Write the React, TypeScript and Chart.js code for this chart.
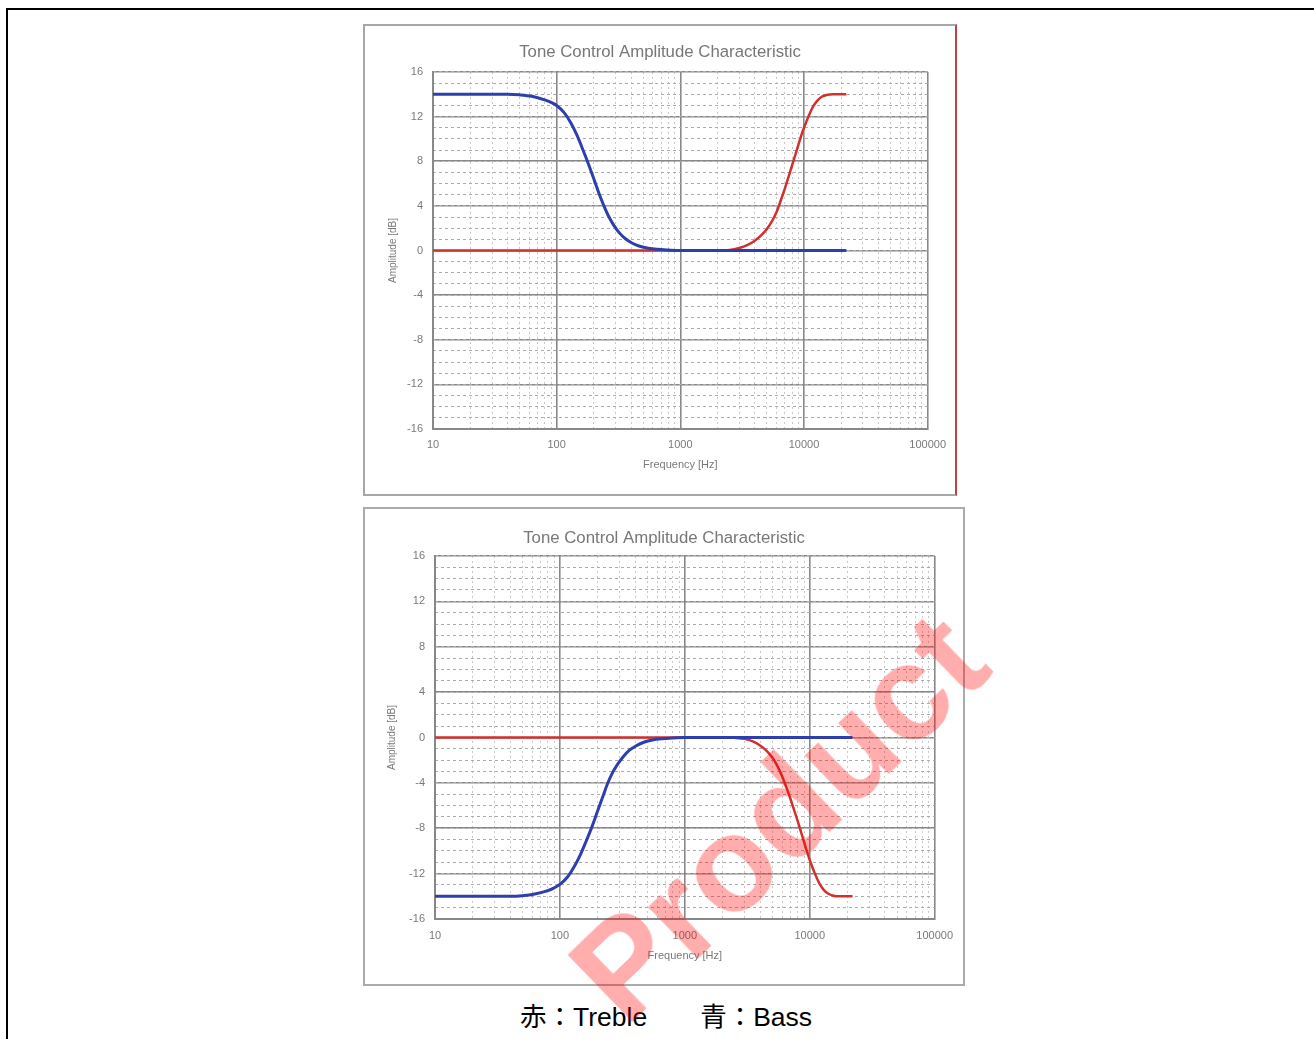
import React, { useEffect, useRef } from "react";
import { Chart, registerables } from "chart.js";

Chart.register(...registerables);

// ---------- data ----------
const TITLE = "Tone Control Amplitude Characteristic";
const X_TITLE = "Frequency [Hz]";
const Y_TITLE = "Amplitude [dB]";
const X_MAJOR_TICKS = [10, 100, 1000, 10000, 100000];
const Y_MIN = -16;
const Y_MAX = 16;
const Y_MAJOR_STEP = 4;
const Y_MINOR_STEP = 1;
const CAPTION = "赤：Treble　　青：Bass";
const WATERMARK = "Product";

// Upper chart: boost
const bassBoostFreq = [10, 20, 40, 50, 63, 80, 90, 100, 115, 130, 145, 160, 180, 200, 220, 240, 265, 290, 320, 360, 410, 470, 550, 650, 800, 1000, 2000, 5000, 10000, 22000];
const bassBoostGain = [14, 14, 14, 13.95, 13.82, 13.5, 13.28, 13.0, 12.35, 11.45, 10.4, 9.25, 7.8, 6.4, 5.1, 4.05, 3.0, 2.25, 1.6, 1.05, 0.65, 0.38, 0.2, 0.1, 0.04, 0, 0, 0, 0, 0];
const trebleBoostFreq = [10, 100, 1000, 2000, 2500, 3000, 3500, 4000, 4500, 5000, 5500, 6000, 6500, 7000, 7500, 8000, 8500, 9000, 9500, 10000, 11000, 12000, 13000, 14000, 15500, 17000, 22000];
const trebleBoostGain = [0, 0, 0, 0, 0.04, 0.22, 0.5, 0.88, 1.35, 1.9, 2.6, 3.45, 4.5, 5.55, 6.6, 7.6, 8.55, 9.45, 10.3, 11.0, 12.15, 13.0, 13.5, 13.8, 13.95, 14, 14];

// Lower chart: cut
const bassCutFreq = [10, 20, 40, 50, 63, 80, 90, 100, 115, 130, 145, 160, 180, 200, 220, 240, 265, 290, 320, 360, 410, 470, 550, 650, 800, 1000, 2000, 5000, 10000, 22000];
const bassCutGain = [-14, -14, -14, -13.95, -13.8, -13.5, -13.25, -12.95, -12.3, -11.4, -10.4, -9.3, -7.9, -6.5, -5.25, -4.1, -3.05, -2.35, -1.72, -1.12, -0.72, -0.42, -0.22, -0.11, -0.04, 0, 0, 0, 0, 0];
const trebleCutFreq = [10, 100, 1000, 2000, 2500, 3000, 3500, 4000, 4500, 5000, 5500, 6000, 6500, 7000, 7500, 8000, 8500, 9000, 9500, 10000, 11000, 12000, 13000, 14000, 15500, 17000, 22000];
const trebleCutGain = [0, 0, 0, 0, -0.03, -0.12, -0.35, -0.7, -1.15, -1.75, -2.5, -3.4, -4.4, -5.4, -6.4, -7.35, -8.3, -9.2, -10.05, -10.8, -12.0, -12.9, -13.45, -13.75, -13.95, -14, -14];

// minor x grid values (2..9 within each decade)
const X_MINOR_TICKS: number[] = [];
for (let i = 0; i < X_MAJOR_TICKS.length - 1; i++) {
  for (let k = 2; k <= 9; k++) X_MINOR_TICKS.push(X_MAJOR_TICKS[i] * k);
}

const FONT = "'Liberation Sans', Arial, sans-serif";
const BLUE = "#2d3fae";
const RED = "#d2302c";

type Props = {
  w: number;
  h: number;
  bassF: number[];
  bassG: number[];
  trebF: number[];
  trebG: number[];
  padRight: number;
  yAxisW: number;
  xAxisH: number;
  titleTop: number;
  titleBottom: number;
  xTickPad: number;
  xTitlePad: number;
  yTickPad: number;
  yTitlePad: number;
};

function makeConfig(p: Props): any {
  return {
    type: "line",
    data: {
      datasets: [
        {
          label: "Bass",
          data: p.bassF.map((f, i) => ({ x: f, y: p.bassG[i] })),
          borderColor: BLUE,
          borderWidth: 3,
          pointRadius: 0,
          cubicInterpolationMode: "monotone",
          fill: false,
          xAxisID: "x",
          yAxisID: "y",
        },
        {
          label: "Treble",
          data: p.trebF.map((f, i) => ({ x: f, y: p.trebG[i] })),
          borderColor: RED,
          borderWidth: 2.5,
          pointRadius: 0,
          cubicInterpolationMode: "monotone",
          fill: false,
          xAxisID: "x",
          yAxisID: "y",
        },
      ],
    },
    options: {
      animation: false,
      responsive: false,
      maintainAspectRatio: false,
      events: [],
      layout: { padding: 0 },
      plugins: {
        legend: { display: false },
        tooltip: { enabled: false },
        title: {
          display: true,
          text: TITLE,
          color: "#777777",
          font: { family: FONT, size: 16.8, weight: "normal" },
          padding: { top: p.titleTop, bottom: p.titleBottom },
        },
      },
      scales: {
        x: {
          type: "logarithmic",
          position: "bottom",
          min: X_MAJOR_TICKS[0],
          max: X_MAJOR_TICKS[X_MAJOR_TICKS.length - 1],
          afterBuildTicks: (s: any) => {
            s.ticks = X_MAJOR_TICKS.map((v) => ({ value: v }));
          },
          afterFit: (s: any) => {
            s.height = p.xAxisH;
          },
          ticks: {
            autoSkip: false,
            maxRotation: 0,
            padding: p.xTickPad,
            color: "#7a7a7a",
            font: { family: FONT, size: 11 },
            callback: (v: any) => String(v),
          },
          grid: { color: "#888888", lineWidth: 1.6, drawTicks: false },
          border: { color: "#888888", width: 2 },
          title: {
            display: true,
            text: X_TITLE,
            color: "#7a7a7a",
            font: { family: FONT, size: 11 },
            padding: { top: 0, bottom: p.xTitlePad },
          },
        },
        xMinor: {
          type: "logarithmic",
          position: "bottom",
          min: X_MAJOR_TICKS[0],
          max: X_MAJOR_TICKS[X_MAJOR_TICKS.length - 1],
          afterBuildTicks: (s: any) => {
            s.ticks = X_MINOR_TICKS.map((v) => ({ value: v }));
          },
          afterFit: (s: any) => {
            s.height = 0;
          },
          ticks: { display: false },
          grid: { color: "#c8c8c8", lineWidth: 1, drawTicks: false, z: -1 },
          border: { display: false, dash: [2, 3] },
        },
        y: {
          type: "linear",
          position: "left",
          min: Y_MIN,
          max: Y_MAX,
          afterFit: (s: any) => {
            s.width = p.yAxisW;
          },
          ticks: {
            stepSize: Y_MAJOR_STEP,
            padding: p.yTickPad,
            color: "#7a7a7a",
            font: { family: FONT, size: 11 },
          },
          grid: { color: "#888888", lineWidth: 1.6, drawTicks: false },
          border: { color: "#888888", width: 2 },
          title: {
            display: true,
            text: Y_TITLE,
            color: "#7a7a7a",
            font: { family: FONT, size: 10 },
            padding: { top: p.yTitlePad, bottom: 0 },
          },
        },
        yMinor: {
          type: "linear",
          position: "left",
          min: Y_MIN,
          max: Y_MAX,
          afterFit: (s: any) => {
            s.width = 0;
          },
          ticks: { display: false, stepSize: Y_MINOR_STEP },
          grid: { color: "#ababab", lineWidth: 1, drawTicks: false, z: -1 },
          border: { display: false, dash: [3, 3] },
        },
        // empty right-hand gutter so the title stays centred on the whole canvas
        yGutter: {
          type: "linear",
          position: "right",
          min: Y_MIN,
          max: Y_MAX,
          afterFit: (s: any) => {
            s.width = p.padRight;
          },
          ticks: { display: false },
          grid: { display: false, drawOnChartArea: false, drawTicks: false },
          border: { display: false },
        },
      },
    },
  };
}

function ToneChart(props: Props) {
  const ref = useRef<HTMLCanvasElement>(null);
  useEffect(() => {
    if (!ref.current) return;
    const chart = new Chart(ref.current, makeConfig(props));
    return () => chart.destroy();
  }, []);
  return (
    <canvas
      ref={ref}
      width={props.w}
      height={props.h}
      style={{ display: "block", width: props.w, height: props.h }}
    />
  );
}

export default function App() {
  return (
    <div
      style={{
        position: "absolute",
        left: 0,
        top: 0,
        width: 1314,
        height: 1039,
        overflow: "hidden",
        background: "#fff",
      }}
    >
      {/* page frame */}
      <div
        style={{
          position: "absolute",
          left: 6,
          top: 8,
          width: 1400,
          height: 1200,
          borderTop: "2.5px solid #000",
          borderLeft: "2.5px solid #000",
        }}
      />
      {/* upper chart */}
      <div
        style={{
          position: "absolute",
          left: 363,
          top: 24,
          width: 594,
          height: 472,
          boxSizing: "border-box",
          border: "2px solid #a8a8a8",
          borderRight: "2px solid #b84444",
          background: "#fff",
        }}
      >
        <ToneChart
          w={590}
          h={468}
          bassF={bassBoostFreq}
          bassG={bassBoostGain}
          trebF={trebleBoostFreq}
          trebG={trebleBoostGain}
          padRight={25}
          yAxisW={68}
          xAxisH={65}
          titleTop={16.5}
          titleBottom={9.3}
          xTickPad={9}
          xTitlePad={22}
          yTickPad={10}
          yTitlePad={22}
        />
      </div>
      {/* lower chart */}
      <div
        style={{
          position: "absolute",
          left: 363,
          top: 507,
          width: 602,
          height: 479,
          boxSizing: "border-box",
          border: "2px solid #ababab",
          background: "#fff",
        }}
      >
        <ToneChart
          w={598}
          h={475}
          bassF={bassCutFreq}
          bassG={bassCutGain}
          trebF={trebleCutFreq}
          trebG={trebleCutGain}
          padRight={25}
          yAxisW={70}
          xAxisH={65}
          titleTop={19.6}
          titleBottom={7.2}
          xTickPad={10}
          xTitlePad={21}
          yTickPad={10}
          yTitlePad={21}
        />
      </div>
      {/* caption */}
      <div
        style={{
          position: "absolute",
          left: 520,
          top: 1002,
          fontFamily: "'Liberation Sans', Arial, 'Noto Sans CJK JP', sans-serif",
          fontSize: 26.5,
          lineHeight: "30px",
          color: "#000",
          whiteSpace: "pre",
        }}
      >
        {CAPTION}
      </div>
      {/* watermark */}
      <div
        style={{
          position: "absolute",
          left: 778,
          top: 816,
          transform: "translate(-50%, -50%) rotate(-44deg)",
          fontFamily: FONT,
          fontWeight: "bold",
          fontSize: 136,
          lineHeight: 1,
          color: "rgba(255, 0, 0, 0.32)",
          whiteSpace: "nowrap",
          pointerEvents: "none",
        }}
      >
        {WATERMARK}
      </div>
    </div>
  );
}
